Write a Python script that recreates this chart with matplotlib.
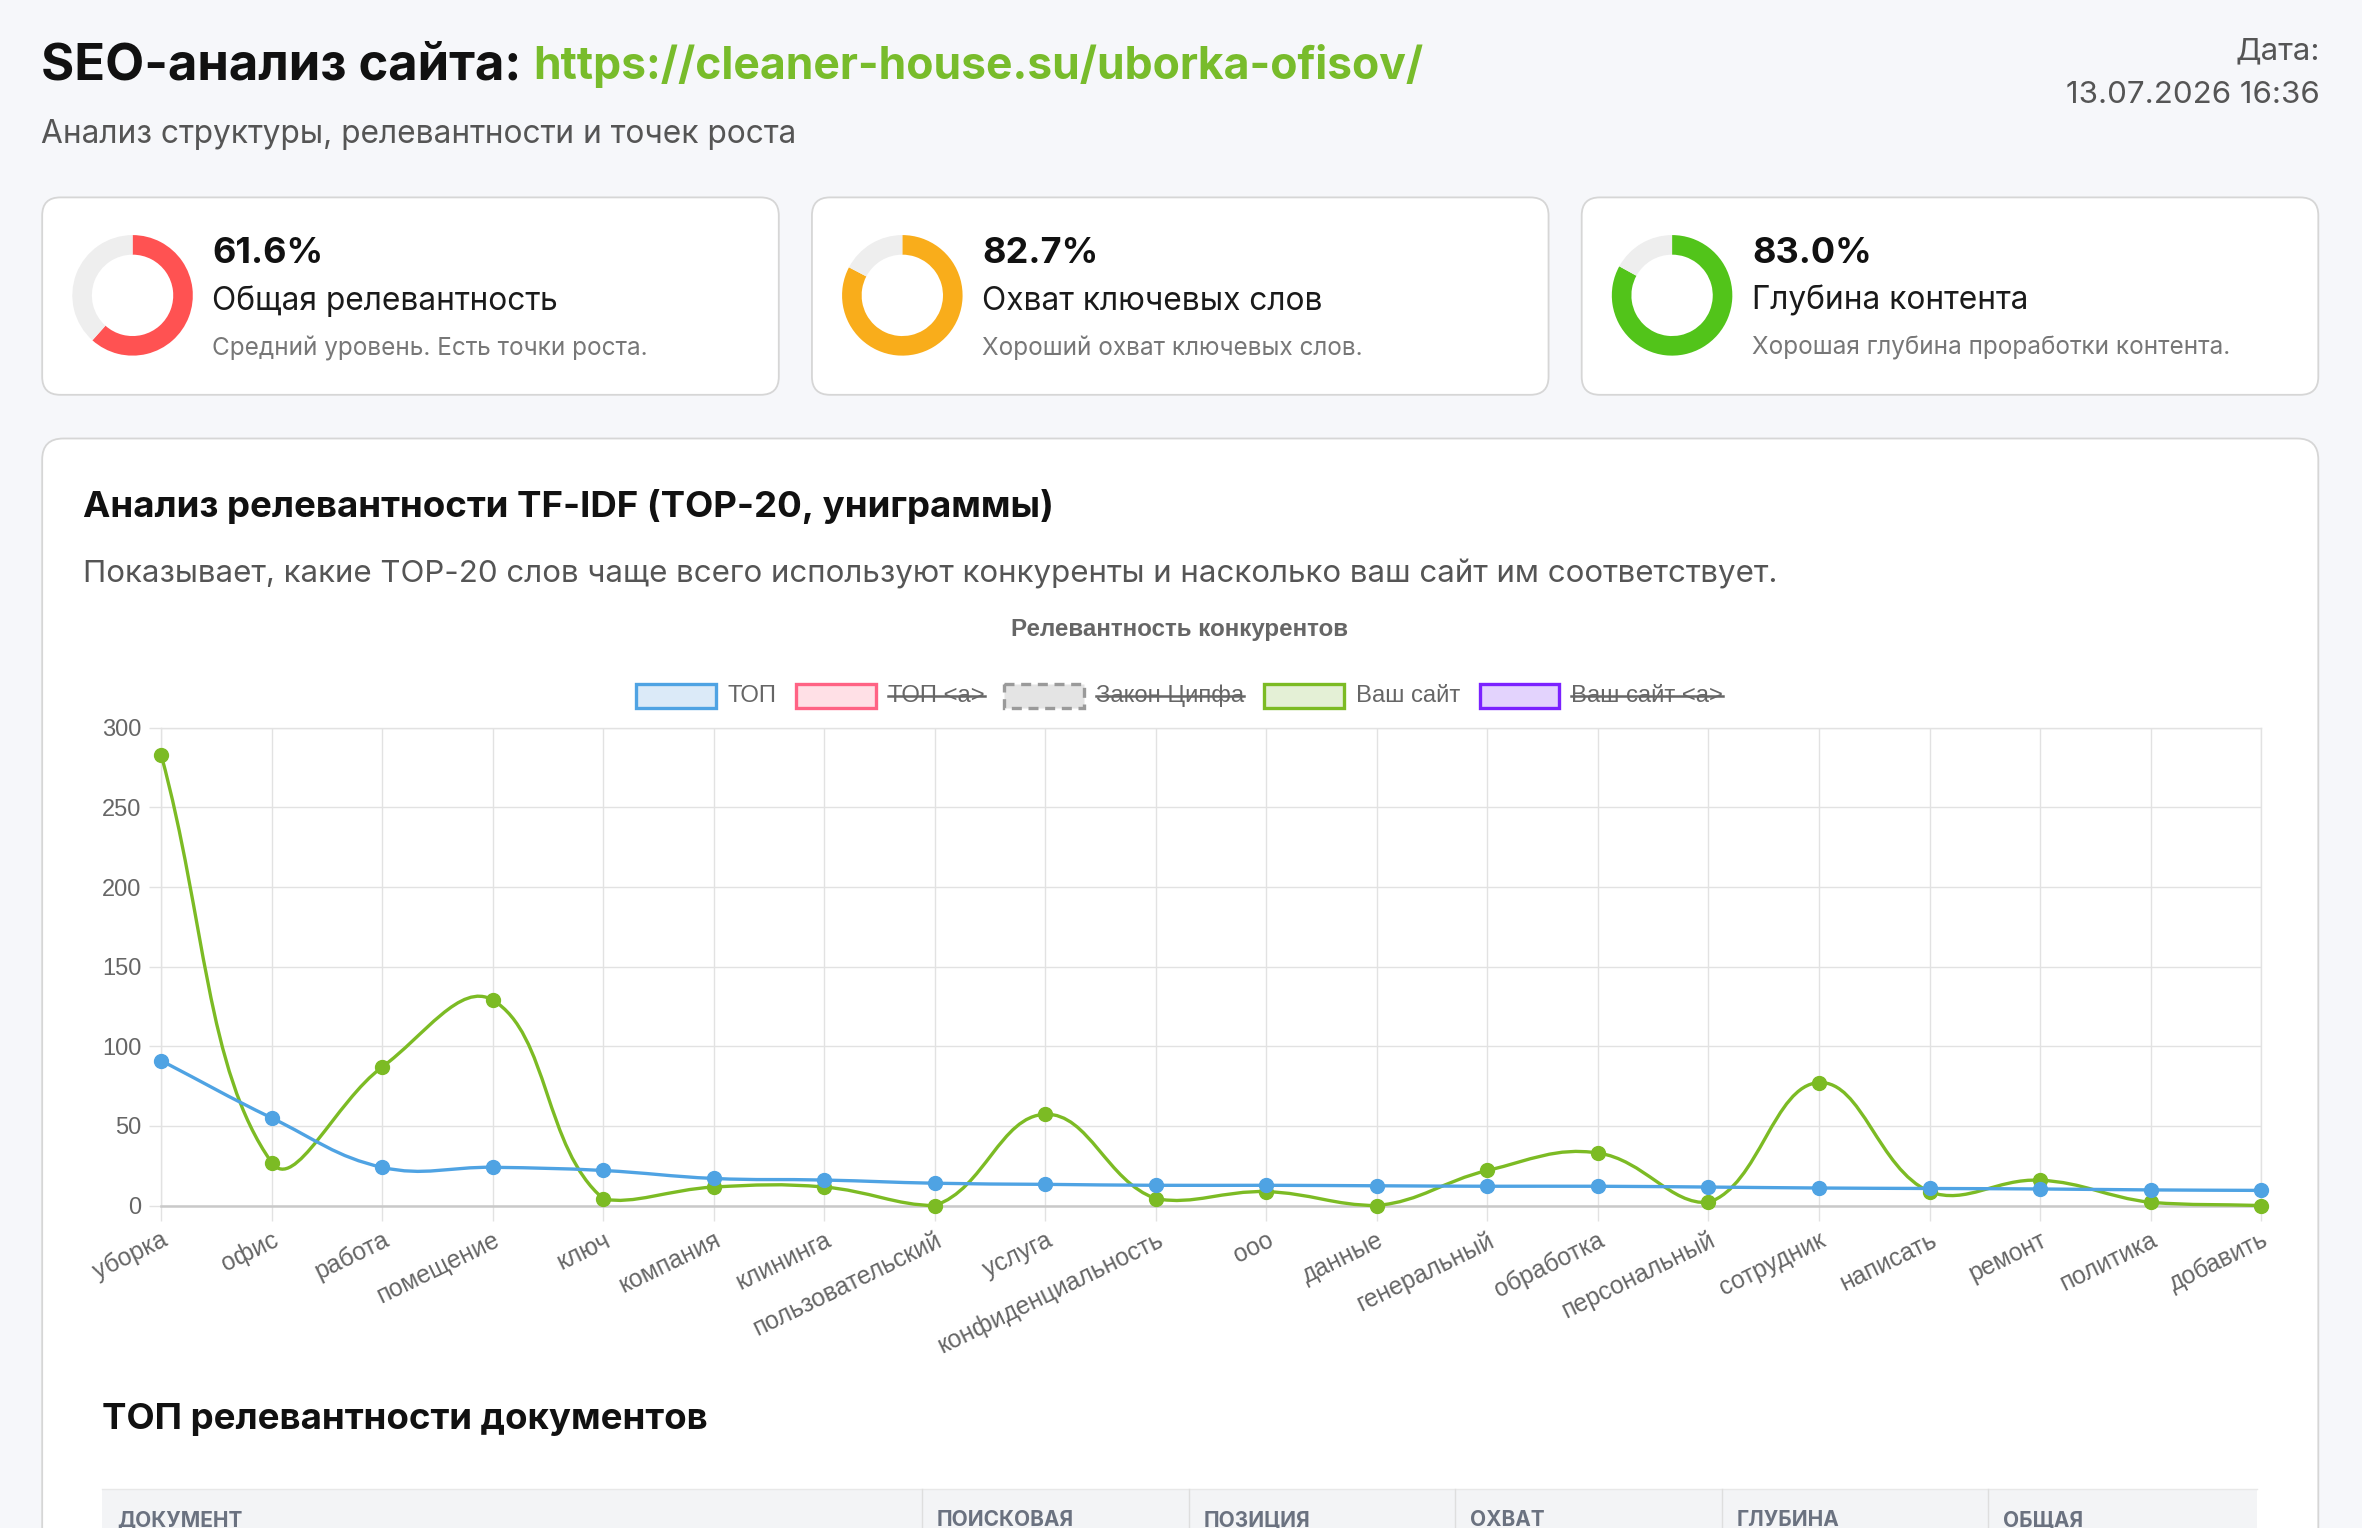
import matplotlib
matplotlib.use("Agg")
import matplotlib.pyplot as plt
from matplotlib.patches import FancyBboxPatch, Wedge, Rectangle, PathPatch
from matplotlib.path import Path
import numpy as np

# chart data
categories = ['уборка', 'офис', 'работа', 'помещение', 'ключ', 'компания', 'клининга',
              'пользовательский', 'услуга', 'конфиденциальность', 'ооо', 'данные',
              'генеральный', 'обработка', 'персональный', 'сотрудник', 'написать',
              'ремонт', 'политика', 'добавить']
top_values = [91, 55, 24, 24, 22, 17, 16, 14, 13.3, 12.7, 12.7, 12.4, 12.1, 12.1,
              11.6, 11, 10.7, 10.4, 9.8, 9.5]
site_values = [283, 27, 87, 129, 4.3, 11.6, 11.6, 0, 57.3, 4.3, 8.7, 0, 22, 33,
               2, 77.2, 8.7, 15.9, 2, 0]
y_ticks = [0, 50, 100, 150, 200, 250, 300]

legend_labels = ['ТОП', 'ТОП <a>', 'Закон Ципфа', 'Ваш сайт', 'Ваш сайт <a>']
legend_hidden = [False, True, True, False, True]
legend_edge = ['#4fa3e3', '#ff6384', '#9a9a9a', '#7cbb24', '#7b22ff']
legend_fill = ['#dbeaf8', '#ffe0e6', '#e4e4e4', '#e4f0d6', '#e3d3fd']

# summary cards
card_values = [61.6, 82.7, 83.0]
card_titles = ['Общая релевантность', 'Охват ключевых слов', 'Глубина контента']
card_notes = ['Средний уровень. Есть точки роста.', 'Хороший охват ключевых слов.',
              'Хорошая глубина проработки контента.']
card_colors = ['#ff5252', '#f9ad1b', '#52c41a']

table_columns = ['ДОКУМЕНТ', 'ПОИСКОВАЯ', 'ПОЗИЦИЯ', 'ОХВАТ', 'ГЛУБИНА', 'ОБЩАЯ']

BLUE = '#4fa3e3'
GREEN = '#7cbb24'
PAGE_FONT = ['Inter', 'DejaVu Sans']
CHART_FONT = ['Liberation Sans', 'DejaVu Sans']

W, H = 1568, 1014  # layout units (screen px of the page)
fig = plt.figure(figsize=(23.62, 15.28), dpi=100, facecolor='#f6f7fa')
bg = fig.add_axes([0, 0, 1, 1])
bg.set_xlim(0, W)
bg.set_ylim(H, 0)
bg.axis('off')
bg.set_zorder(0)
renderer = fig.canvas.get_renderer()


def width_of(t):
    bb = t.get_window_extent(renderer=renderer)
    return bb.width * W / fig.bbox.width


def card(x, y, w, h, r=12):
    bg.add_patch(FancyBboxPatch((x, y), w, h, boxstyle=f"round,pad=0,rounding_size={r}",
                                fc='white', ec='#d6d6d6', lw=1.3))


# header
t = bg.text(27, 44, 'SEO-анализ сайта: ', fontsize=36.5, fontweight='bold', color='#111111',
            family=PAGE_FONT, va='center')
bg.text(27 + width_of(t), 44, 'https://cleaner-house.su/uborka-ofisov/', fontsize=32,
        fontweight='bold', color='#78bc2b', family=PAGE_FONT, va='center')
bg.text(27, 89, 'Анализ структуры, релевантности и точек роста', fontsize=22.8,
        color='#555555', family=PAGE_FONT, va='center')
bg.text(1540, 34, 'Дата:', fontsize=22.5, color='#555555', family=PAGE_FONT,
        va='center', ha='right')
bg.text(1540, 63, '13.07.2026 16:36', fontsize=22.5, color='#555555', family=PAGE_FONT,
        va='center', ha='right')

# summary cards
for i in range(3):
    x0 = 28 + i * 511
    card(x0, 131, 489, 131)
    cx, cy = x0 + 60, 196
    p = card_values[i] / 100
    bg.add_patch(Wedge((cx, cy), 40, -90, -90 + 360 * p, width=13, fc=card_colors[i], ec='none'))
    bg.add_patch(Wedge((cx, cy), 40, -90 + 360 * p, 270, width=13, fc='#eeeeee', ec='none'))
    bg.text(x0 + 113, 168, f'{card_values[i]:.1f}%', fontsize=26, fontweight='bold',
            color='#111111', family=PAGE_FONT, va='center')
    bg.text(x0 + 113, 200, card_titles[i], fontsize=22.8, color='#1a1a1a',
            family=PAGE_FONT, va='center')
    bg.text(x0 + 113, 231, card_notes[i], fontsize=17.5, color='#777777',
            family=PAGE_FONT, va='center')

# main card
card(28, 291, 1511, 800, r=14)
bg.text(55, 336, 'Анализ релевантности TF-IDF (TOP-20, униграммы)', fontsize=26.4,
        fontweight='bold', color='#111111', family=PAGE_FONT, va='center')
bg.text(55, 381, 'Показывает, какие TOP-20 слов чаще всего используют конкуренты и '
        'насколько ваш сайт им соответствует.', fontsize=22.5, color='#555555',
        family=PAGE_FONT, va='center')
bg.text(783, 418, 'Релевантность конкурентов', fontsize=17.4, fontweight='bold',
        color='#666666', family=CHART_FONT, va='center', ha='center')

# legend (chart.js style, hidden datasets struck through)
box_w, box_h, gap, spacing = 53, 16, 8, 13
texts = [bg.text(0, 462, lab, fontsize=17.2, color='#666666', family=CHART_FONT,
                 va='center') for lab in legend_labels]
widths = [width_of(tt) for tt in texts]
total = sum(box_w + gap + w for w in widths) + spacing * (len(widths) - 1)
x = 783 - total / 2
for i, tt in enumerate(texts):
    ls = (0, (3, 2)) if i == 2 else '-'
    bg.add_patch(Rectangle((x, 462 - box_h / 2), box_w, box_h, fc=legend_fill[i],
                           ec=legend_edge[i], lw=2.4, ls=ls))
    tt.set_x(x + box_w + gap)
    if legend_hidden[i]:
        bg.plot([x + box_w + gap, x + box_w + gap + widths[i]], [462, 462],
                color='#666666', lw=1.8)
    x += box_w + gap + widths[i] + spacing

# chart
ax = fig.add_axes([107 / W, 1 - 800 / H, (1501 - 107) / W, (800 - 483) / H])
ax.set_zorder(2)
ax.patch.set_alpha(0)
xs = np.arange(len(categories))
ax.set_xlim(0, len(categories) - 1)
ax.set_ylim(0, 300)
ax.set_xticks(xs)
ax.set_xticklabels(categories, rotation=26, ha='right', rotation_mode='anchor',
                   family=CHART_FONT, fontsize=17.8, color='#666666')
ax.set_yticks(y_ticks)
ax.set_yticklabels([str(v) for v in y_ticks], family=CHART_FONT, fontsize=17,
                   color='#666666')
ax.tick_params(axis='x', length=11, width=1, color='#e2e2e2', pad=5)
ax.tick_params(axis='y', length=9, width=1, color='#e2e2e2', pad=5)
ax.grid(True, color='#e2e2e2', lw=1)
ax.set_axisbelow(True)
for s in ['top', 'right', 'left']:
    ax.spines[s].set_color('#e2e2e2')
    ax.spines[s].set_linewidth(1)
ax.spines['bottom'].set_color('#c9c9c9')
ax.spines['bottom'].set_linewidth(1.8)


def spline(xv, yv, tension=0.4):
    # chart.js style bezier control points, computed in pixel space
    pts = ax.transData.transform(np.column_stack([xv, yv]))
    n = len(pts)
    box = ax.bbox
    verts = [pts[0]]
    cps = []
    for i in range(n):
        prev = pts[i - 1] if i > 0 else pts[i]
        nxt = pts[i + 1] if i < n - 1 else pts[i]
        cur = pts[i]
        d01 = np.hypot(*(cur - prev))
        d12 = np.hypot(*(nxt - cur))
        tot = d01 + d12
        s01 = d01 / tot if tot else 0
        s12 = d12 / tot if tot else 0
        cp_prev = cur - tension * s01 * (nxt - prev)
        cp_next = cur + tension * s12 * (nxt - prev)
        for c in (cp_prev, cp_next):
            c[0] = min(max(c[0], box.x0), box.x1)
            c[1] = min(max(c[1], box.y0), box.y1)
        cps.append((cp_prev, cp_next))
    codes = [Path.MOVETO]
    for i in range(n - 1):
        verts += [cps[i][1], cps[i + 1][0], pts[i + 1]]
        codes += [Path.CURVE4] * 3
    verts = ax.transData.inverted().transform(np.array(verts))
    return Path(verts, codes)


ax.add_patch(PathPatch(spline(xs, site_values), fc='none', ec=GREEN, lw=2.4,
                       clip_on=False, zorder=3))
ax.plot(xs, site_values, 'o', color=GREEN, ms=10, clip_on=False, zorder=4)
ax.add_patch(PathPatch(spline(xs, top_values), fc='none', ec=BLUE, lw=2.4,
                       clip_on=False, zorder=5))
ax.plot(xs, top_values, 'o', color=BLUE, ms=10, clip_on=False, zorder=6)

# table block
bg.text(68, 942, 'ТОП релевантности документов', fontsize=26.4, fontweight='bold',
        color='#111111', family=PAGE_FONT, va='center')
col_x = [68, 612, 789, 966, 1143, 1320, 1498]
bg.add_patch(Rectangle((68, 988), 1430, 40, fc='#f3f4f6', ec='none'))
bg.plot([68, 1498], [988, 988], color='#e8e8e8', lw=1)
for i, name in enumerate(table_columns):
    if i > 0:
        bg.plot([col_x[i], col_x[i]], [988, 1014], color='#dedede', lw=1)
    bg.text(col_x[i] + 10, 1009, name, fontsize=15, fontweight='bold', color='#6b7280',
            family=PAGE_FONT, va='center')

fig.savefig('out.png', dpi=100, facecolor=fig.get_facecolor())
